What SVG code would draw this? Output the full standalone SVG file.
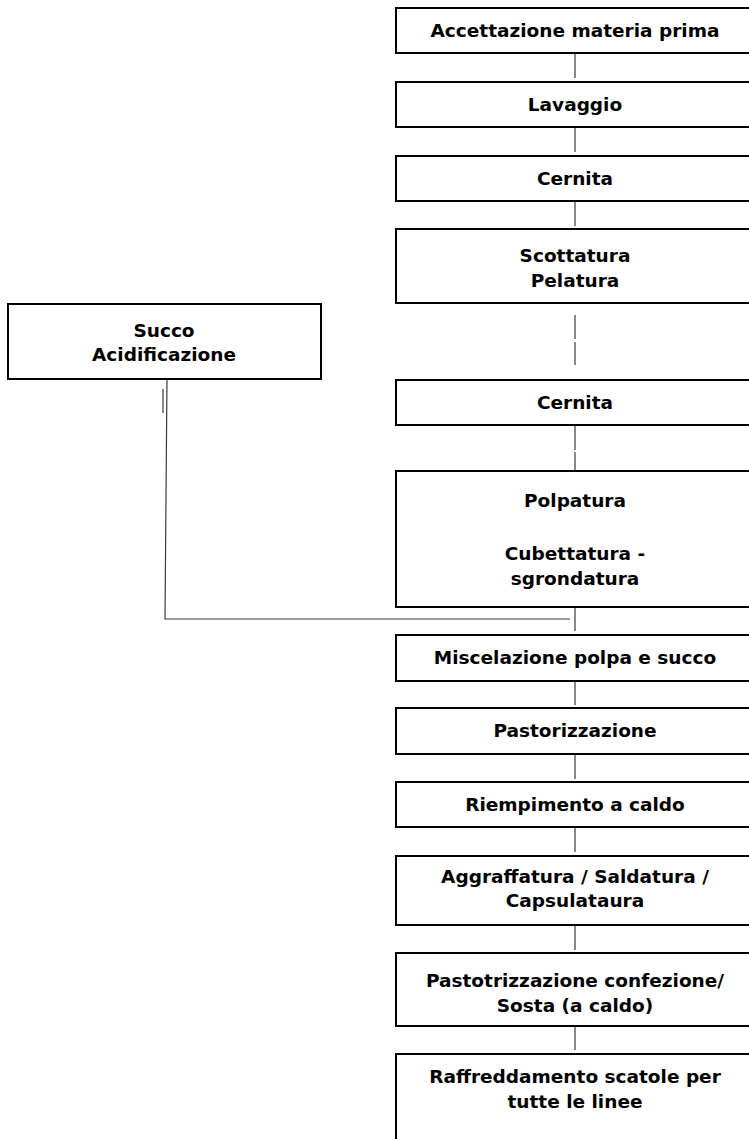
<svg xmlns="http://www.w3.org/2000/svg" width="749" height="1139" viewBox="0 0 749 1139">
  <style>
    .box { fill: #ffffff; stroke: #000000; stroke-width: 2; }
    .lbl { font-family: "DejaVu Sans", "Liberation Sans", sans-serif; font-weight: bold; font-size: 18.5px; fill: #000000; text-anchor: middle; }
    .ln { stroke: #3a3a3a; stroke-width: 1.2; fill: none; }
  </style>
  <rect width="749" height="1139" fill="#ffffff"/>

  <!-- connectors -->
  <g id="connectors">
    <line class="ln" x1="575" y1="53" x2="575" y2="78"/>
    <line class="ln" x1="575" y1="127" x2="575" y2="152"/>
    <line class="ln" x1="575" y1="201" x2="575" y2="226"/>
    <line class="ln" x1="575" y1="315" x2="575" y2="339"/>
    <line class="ln" x1="575" y1="342" x2="575" y2="365"/>
    <line class="ln" x1="575" y1="425" x2="575" y2="450"/>
    <line class="ln" x1="575" y1="452" x2="575" y2="470"/>
    <line class="ln" x1="575" y1="607" x2="575" y2="631"/>
    <line class="ln" x1="575" y1="681" x2="575" y2="705"/>
    <line class="ln" x1="575" y1="754" x2="575" y2="779"/>
    <line class="ln" x1="575" y1="827" x2="575" y2="852"/>
    <line class="ln" x1="575" y1="925" x2="575" y2="950"/>
    <line class="ln" x1="575" y1="1026" x2="575" y2="1050"/>
    <!-- side feed from Succo / Acidificazione -->
    <polyline class="ln" points="167,377 165,619 570,619"/>
    <line class="ln" x1="163" y1="389" x2="163" y2="413" stroke="#666666"/>
  </g>

  <g id="n1">
    <rect class="box" x="396" y="8" width="360" height="45"/>
    <text class="lbl" x="575" y="37">Accettazione materia prima</text>
  </g>
  <g id="n2">
    <rect class="box" x="396" y="82" width="360" height="45"/>
    <text class="lbl" x="575" y="111">Lavaggio</text>
  </g>
  <g id="n3">
    <rect class="box" x="396" y="156" width="360" height="45"/>
    <text class="lbl" x="575" y="185">Cernita</text>
  </g>
  <g id="n4">
    <rect class="box" x="396" y="229" width="360" height="74"/>
    <text class="lbl" x="575" y="262">Scottatura</text>
    <text class="lbl" x="575" y="287">Pelatura</text>
  </g>
  <g id="succo">
    <rect class="box" x="8" y="304" width="313" height="75"/>
    <text class="lbl" x="164" y="337">Succo</text>
    <text class="lbl" x="164" y="361">Acidificazione</text>
  </g>
  <g id="n5">
    <rect class="box" x="396" y="380" width="360" height="45"/>
    <text class="lbl" x="575" y="409">Cernita</text>
  </g>
  <g id="n6">
    <rect class="box" x="396" y="471" width="360" height="136"/>
    <text class="lbl" x="575" y="507">Polpatura</text>
    <text class="lbl" x="575" y="560">Cubettatura -</text>
    <text class="lbl" x="575" y="585">sgrondatura</text>
  </g>
  <g id="n7">
    <rect class="box" x="396" y="635" width="360" height="46"/>
    <text class="lbl" x="575" y="664">Miscelazione polpa e succo</text>
  </g>
  <g id="n8">
    <rect class="box" x="396" y="708" width="360" height="46"/>
    <text class="lbl" x="575" y="737">Pastorizzazione</text>
  </g>
  <g id="n9">
    <rect class="box" x="396" y="782" width="360" height="45"/>
    <text class="lbl" x="575" y="811">Riempimento a caldo</text>
  </g>
  <g id="n10">
    <rect class="box" x="396" y="856" width="360" height="69"/>
    <text class="lbl" x="575" y="883">Aggraffatura / Saldatura /</text>
    <text class="lbl" x="575" y="907">Capsulataura</text>
  </g>
  <g id="n11">
    <rect class="box" x="396" y="953" width="360" height="73"/>
    <text class="lbl" x="575" y="987">Pastotrizzazione confezione/</text>
    <text class="lbl" x="575" y="1012">Sosta (a caldo)</text>
  </g>
  <g id="n12">
    <rect class="box" x="396" y="1054" width="360" height="100"/>
    <text class="lbl" x="575" y="1083">Raffreddamento scatole per</text>
    <text class="lbl" x="575" y="1108">tutte le linee</text>
  </g>
</svg>
